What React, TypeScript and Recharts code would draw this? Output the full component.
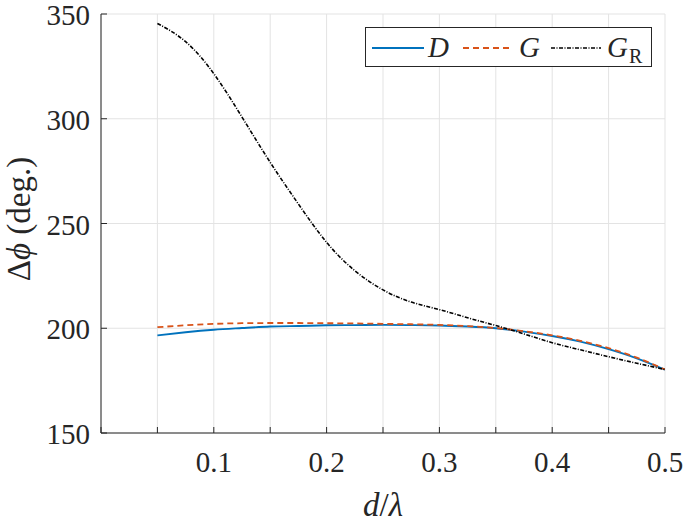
import React from "react";
import { LineChart, Line, XAxis, YAxis, CartesianGrid, Legend } from "recharts";

const xValues = [0.05, 0.075, 0.1, 0.125, 0.15, 0.175, 0.2, 0.225, 0.25, 0.275, 0.3, 0.325, 0.35, 0.375, 0.4, 0.425, 0.45, 0.475, 0.5];
const dValues = [196.6, 198.1, 199.3, 200.1, 200.8, 201.1, 201.4, 201.5, 201.6, 201.5, 201.3, 200.8, 200.0, 198.4, 196.3, 193.6, 190.0, 185.6, 180.2];
const gValues = [200.5, 201.4, 202.1, 202.4, 202.5, 202.5, 202.4, 202.3, 202.1, 201.9, 201.6, 201.0, 200.1, 198.6, 196.6, 194.0, 190.5, 186.0, 180.3];
const grValues = [345.5, 336.8, 321.5, 300.8, 279.2, 259.3, 241.0, 227.5, 218.3, 212.5, 208.9, 205.0, 201.3, 197.3, 193.1, 189.7, 186.4, 183.3, 180.3];

const xTicks = [0, 0.05, 0.1, 0.15, 0.2, 0.25, 0.3, 0.35, 0.4, 0.45, 0.5];
const xTickLabels = ["", "", "0.1", "", "0.2", "", "0.3", "", "0.4", "", "0.5"];
const yTicks = [150, 200, 250, 300, 350];
const yTickLabels = ["150", "200", "250", "300", "350"];

const data = xValues.map((x, i) => ({ x, D: dValues[i], G: gValues[i], GR: grValues[i] }));

const AX = "#262626";
const FONT = "Liberation Serif, Times New Roman, Tinos, DejaVu Serif, Noto Serif, FreeSerif, Times, serif";
const TICK_LEN = 6;

const BottomTick = (props: any) => {
  const { x, y, index } = props;
  const label = xTickLabels[index] ?? "";
  return (
    <g>
      <line x1={x} y1={y} x2={x} y2={y - TICK_LEN} stroke={AX} strokeWidth={1} />
      {label && (
        <text x={x} y={y + 29} textAnchor="middle" dominantBaseline="central" fill={AX} style={{ fontSize: 29, fontFamily: FONT }}>
          {label}
        </text>
      )}
    </g>
  );
};

const TopTick = (props: any) => {
  const { x, y } = props;
  return <line x1={x} y1={y} x2={x} y2={y + TICK_LEN} stroke={AX} strokeWidth={1} />;
};

const LeftTick = (props: any) => {
  const { x, y, index } = props;
  const label = yTickLabels[index] ?? "";
  return (
    <g>
      <line x1={x} y1={y} x2={x + TICK_LEN} y2={y} stroke={AX} strokeWidth={1} />
      <text x={x - 11} y={y + 1} textAnchor="end" dominantBaseline="central" fill={AX} style={{ fontSize: 29, fontFamily: FONT }}>
        {label}
      </text>
    </g>
  );
};

const RightTick = (props: any) => {
  const { x, y } = props;
  return <line x1={x} y1={y} x2={x - TICK_LEN} y2={y} stroke={AX} strokeWidth={1} />;
};

const legendText: React.CSSProperties = {
  position: "absolute",
  top: 2,
  fontFamily: FONT,
  fontSize: 29,
  fontStyle: "italic",
  color: AX,
  lineHeight: "34px",
  whiteSpace: "nowrap",
};

const LegendContent = () => (
  <div
    style={{
      position: "relative",
      width: 287,
      height: 40,
      boxSizing: "border-box",
      border: `1px solid ${AX}`,
      background: "#fff",
    }}
  >
    <svg width={287} height={40} style={{ position: "absolute", left: 0, top: 0 }}>
      <line x1={6} y1={20} x2={58} y2={20} stroke="#0072BD" strokeWidth={1.9} />
      <line x1={97} y1={20} x2={145} y2={20} stroke="#D95319" strokeWidth={1.8} strokeDasharray="6 4" />
      <line x1={185} y1={20} x2={235} y2={20} stroke="#000" strokeWidth={1.6} strokeDasharray="4 1.5 1 1.5" />
    </svg>
    <span style={{ ...legendText, left: 62 }}>D</span>
    <span style={{ ...legendText, left: 153 }}>G</span>
    <span style={{ ...legendText, left: 241 }}>
      G
      <span style={{ fontStyle: "normal", fontSize: 20, position: "relative", top: 6, marginLeft: 1 }}>R</span>
    </span>
  </div>
);

export default function App() {
  return (
    <div style={{ position: "absolute", left: 0, top: 0, width: 685, height: 523, background: "#fff", fontFamily: FONT }}>
      <LineChart width={685} height={523} data={data} margin={{ top: 14, right: 20, bottom: 0, left: 0 }}>
        <CartesianGrid stroke="#e3e3e3" strokeWidth={1} />
        <XAxis
          dataKey="x"
          type="number"
          domain={[0, 0.5]}
          ticks={xTicks}
          interval={0}
          height={90}
          tickSize={0}
          tickMargin={0}
          tickLine={false}
          axisLine={{ stroke: AX, strokeWidth: 1 }}
          tick={<BottomTick />}
          allowDataOverflow
        />
        <XAxis
          xAxisId="top"
          orientation="top"
          dataKey="x"
          type="number"
          domain={[0, 0.5]}
          ticks={xTicks}
          interval={0}
          height={0}
          tickSize={0}
          tickMargin={0}
          tickLine={false}
          axisLine={{ stroke: AX, strokeWidth: 1 }}
          tick={<TopTick />}
          allowDataOverflow
        />
        <YAxis
          type="number"
          domain={[150, 350]}
          ticks={yTicks}
          interval={0}
          width={101}
          tickSize={0}
          tickMargin={0}
          tickLine={false}
          axisLine={{ stroke: AX, strokeWidth: 1 }}
          tick={<LeftTick />}
          allowDataOverflow
          label={{
            value: "Δϕ (deg.)",
            angle: -90,
            position: "insideLeft",
            content: () => (
              <text
                x={19}
                y={219}
                transform="rotate(-90 19 219)"
                textAnchor="middle"
                dominantBaseline="central"
                fill={AX}
                style={{ fontSize: 33, fontFamily: FONT }}
              >
                <tspan>Δ</tspan>
                <tspan fontStyle="italic">ϕ</tspan>
                <tspan> (deg.)</tspan>
              </text>
            ),
          }}
        />
        <YAxis
          yAxisId="right"
          orientation="right"
          type="number"
          domain={[150, 350]}
          ticks={yTicks}
          interval={0}
          width={0}
          tickSize={0}
          tickMargin={0}
          tickLine={false}
          axisLine={{ stroke: AX, strokeWidth: 1 }}
          tick={<RightTick />}
          allowDataOverflow
        />
        <Legend
          layout="horizontal"
          verticalAlign="middle"
          align="center"
          wrapperStyle={{ left: 365, top: 27, width: 287, height: 40 }}
          content={<LegendContent />}
        />
        <Line dataKey="D" type="natural" stroke="#0072BD" strokeWidth={1.9} dot={false} isAnimationActive={false} />
        <Line dataKey="G" type="natural" stroke="#D95319" strokeWidth={1.8} strokeDasharray="6 4" dot={false} isAnimationActive={false} />
        <Line dataKey="GR" type="natural" stroke="#000000" strokeWidth={1.6} strokeDasharray="4 1.5 1 1.5" dot={false} isAnimationActive={false} />
      </LineChart>
      <div
        style={{
          position: "absolute",
          left: 383,
          top: 505,
          transform: "translate(-50%, -50%)",
          fontFamily: FONT,
          fontSize: 33,
          color: AX,
          whiteSpace: "nowrap",
          fontStyle: "italic",
        }}
      >
        d<span style={{ fontStyle: "normal" }}>/</span>λ
      </div>
    </div>
  );
}
